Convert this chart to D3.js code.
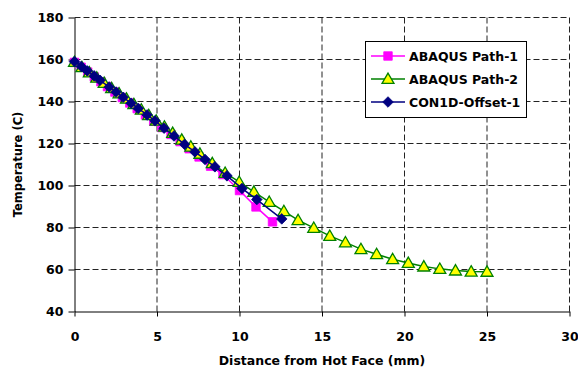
<!DOCTYPE html>
<html>
<head>
<meta charset="utf-8">
<script src="https://cdn.jsdelivr.net/npm/d3@7"></script>
<style>
  html, body { margin: 0; padding: 0; background: #fff; }
  svg { display: block; }
  text { font-family: "DejaVu Sans", Verdana, sans-serif; }
</style>
</head>
<body>
<svg id="chart" width="578" height="370"></svg>
<script>
// Temperature profiles through the mould plate
const path1Dist = [0, 0.4, 0.8, 1.2, 1.6, 2.0, 2.45, 2.9, 3.35, 3.8, 4.3, 4.8, 5.3, 5.85, 6.4, 6.95, 7.55, 8.25, 9.0, 10.0, 11.0, 12.0];
const path1Temp = [158.6, 156.3, 154.0, 151.7, 149.4, 147.1, 144.5, 141.9, 139.3, 136.6, 133.6, 130.6, 127.6, 124.3, 120.9, 117.5, 113.6, 109.2, 105.2, 97.6, 89.8, 82.7];

const path2Dist = [0, 0.45, 0.9, 1.35, 1.8, 2.25, 2.7, 3.15, 3.6, 4.05, 4.5, 4.95, 5.45, 5.95, 6.5, 7.05, 7.6, 8.35, 9.13, 9.98, 10.87, 11.8, 12.69, 13.55, 14.5, 15.47, 16.42, 17.36, 18.31, 19.28, 20.23, 21.17, 22.14, 23.09, 24.04, 25.0];
const path2Temp = [158.8, 156.3, 153.8, 151.3, 148.8, 146.3, 143.8, 141.3, 138.7, 136.1, 133.5, 130.9, 128.0, 125.0, 121.8, 118.5, 115.1, 110.6, 106.0, 101.7, 97.0, 92.2, 87.8, 83.5, 79.8, 76.0, 72.9, 69.7, 67.3, 64.9, 63.1, 61.4, 60.3, 59.5, 59.0, 58.9];

const con1dDist = [0, 0.41, 0.77, 1.19, 1.55, 2.10, 2.52, 2.95, 3.43, 3.86, 4.40, 4.88, 5.43, 6.03, 6.67, 7.30, 7.91, 8.51, 9.24, 10.15, 11.05, 12.56];
const con1dTemp = [159.0, 156.7, 154.6, 152.2, 150.1, 146.9, 144.5, 142.0, 139.2, 136.7, 133.6, 130.8, 127.3, 123.6, 119.6, 116.0, 112.4, 108.9, 104.6, 98.6, 93.3, 84.1];

const seriesNames = ["ABAQUS Path-1", "ABAQUS Path-2", "CON1D-Offset-1"];
const xTicks = [0, 5, 10, 15, 20, 25, 30];
const yTicks = [40, 60, 80, 100, 120, 140, 160, 180];
const xTitle = "Distance from Hot Face (mm)";
const yTitle = "Temperature (C)";

const series = [
  { name: seriesNames[0], xs: path1Dist, ys: path1Temp, line: "#ff00ff", marker: "square", fill: "#ff00ff", stroke: "#ff00ff" },
  { name: seriesNames[1], xs: path2Dist, ys: path2Temp, line: "#008000", marker: "triangle", fill: "#ffff00", stroke: "#008000" },
  { name: seriesNames[2], xs: con1dDist, ys: con1dTemp, line: "#000080", marker: "diamond", fill: "#000080", stroke: "#000080" }
];

const svg = d3.select("#chart");
const x = d3.scaleLinear().domain([0, 30]).range([74.5, 569.5]);
const y = d3.scaleLinear().domain([40, 180]).range([311.5, 17.5]);

// dashed grid
const grid = svg.append("g");
grid.selectAll("line.h").data(yTicks.filter(v => v > 40)).join("line")
  .attr("x1", x(0)).attr("x2", x(30))
  .attr("y1", d => y(d)).attr("y2", d => y(d))
  .attr("stroke", "#222").attr("stroke-dasharray", "6,3");
grid.selectAll("line.v").data(xTicks.filter(v => v > 0)).join("line")
  .attr("y1", y(40)).attr("y2", y(180))
  .attr("x1", d => x(d)).attr("x2", d => x(d))
  .attr("stroke", "#222").attr("stroke-dasharray", "6,3");

// axes
const yAxis = svg.append("g").attr("transform", `translate(${x(0)},0)`)
  .call(d3.axisLeft(y).tickValues(yTicks).tickSize(6).tickSizeOuter(0).tickPadding(5));
const xAxis = svg.append("g").attr("transform", `translate(0,${y(40)})`)
  .call(d3.axisBottom(x).tickValues(xTicks).tickSize(5).tickSizeOuter(0).tickPadding(16));
[yAxis, xAxis].forEach(a => {
  a.select(".domain").attr("stroke", "#000");
  a.selectAll(".tick line").attr("stroke", "#000");
  a.selectAll(".tick text").attr("fill", "#000")
    .style("font-family", "'DejaVu Sans', sans-serif")
    .style("font-size", "12.5px").style("font-weight", "bold");
});

svg.append("text").attr("x", (x(0) + x(30)) / 2).attr("y", 365)
  .attr("text-anchor", "middle").style("font-size", "12.5px").style("font-weight", "bold")
  .text(xTitle);
svg.append("text").attr("transform", `translate(22,${(y(40) + y(180)) / 2}) rotate(-90)`)
  .attr("text-anchor", "middle").style("font-size", "11.5px").style("font-weight", "bold")
  .text(yTitle);

// marker shapes: square, triangle and a square-rotated diamond
const diamondType = {
  draw(ctx, size) {
    const r = Math.sqrt(size / 2);
    ctx.moveTo(0, -r); ctx.lineTo(r, 0); ctx.lineTo(0, r); ctx.lineTo(-r, 0); ctx.closePath();
  }
};
const symbolFor = {
  square: d3.symbol().type(d3.symbolSquare).size(72),
  triangle: d3.symbol().type(d3.symbolTriangle).size(62),
  diamond: d3.symbol().type(diamondType).size(56)
};

const line = d3.line().x(d => x(d[0])).y(d => y(d[1]));
const plot = svg.append("g");
series.forEach(s => {
  const pts = s.xs.map((v, i) => [v, s.ys[i]]);
  const g = plot.append("g");
  g.append("path").datum(pts).attr("d", line)
    .attr("fill", "none").attr("stroke", s.line).attr("stroke-width", 1.5);
  g.selectAll("path.m").data(pts).join("path").attr("class", "m")
    .attr("d", symbolFor[s.marker])
    .attr("transform", d => `translate(${x(d[0])},${y(d[1]) + (s.marker === "triangle" ? 1 : 0)})`)
    .attr("fill", s.fill).attr("stroke", s.stroke).attr("stroke-width", s.marker === "triangle" ? 1.3 : 0.8);
});

// legend
const lg = svg.append("g");
lg.append("rect").attr("x", 365.5).attr("y", 41.5).attr("width", 161).attr("height", 76)
  .attr("fill", "#fff").attr("stroke", "#000");
const rowY = [56, 79, 102];
series.forEach((s, i) => {
  const ry = rowY[i];
  lg.append("line").attr("x1", 371).attr("x2", 405).attr("y1", ry).attr("y2", ry)
    .attr("stroke", s.line).attr("stroke-width", 1.5);
  lg.append("path").attr("d", symbolFor[s.marker])
    .attr("transform", `translate(388,${ry + (s.marker === "triangle" ? 1 : 0)})`)
    .attr("fill", s.fill).attr("stroke", s.stroke).attr("stroke-width", s.marker === "triangle" ? 1.3 : 0.8);
  lg.append("text").attr("x", 409).attr("y", ry + 4.5)
    .style("font-size", "12.5px").style("font-weight", "bold").text(s.name);
});
</script>
</body>
</html>
